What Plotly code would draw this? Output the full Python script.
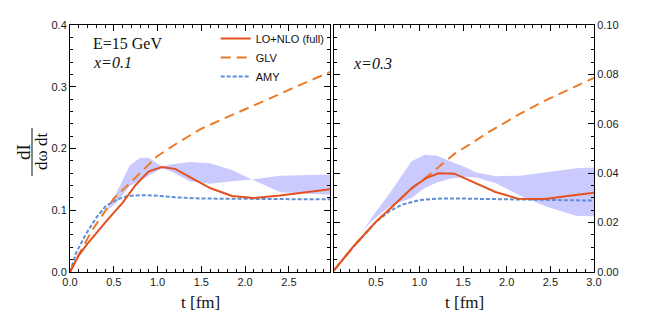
import plotly.graph_objects as go

# ---------------- data: left panel (x = 0.1) ----------------
t_full_L = [0, 0.1, 0.2, 0.3, 0.45, 0.6, 0.75, 0.9, 1.05, 1.2, 1.4, 1.6, 1.85, 2.1, 2.4, 2.7, 2.97]
v_full_L = [0, 0.027, 0.046, 0.063, 0.088, 0.112, 0.141, 0.163, 0.170, 0.167, 0.152, 0.136, 0.123, 0.120, 0.124, 0.129, 0.134]

t_glv_L = [0, 0.1, 0.25, 0.5, 0.75, 1.0, 1.25, 1.5, 1.75, 2.0, 2.25, 2.5, 2.75, 2.97]
v_glv_L = [0, 0.028, 0.067, 0.119, 0.153, 0.188, 0.211, 0.232, 0.248, 0.263, 0.279, 0.295, 0.311, 0.324]

t_amy_L = [0, 0.07, 0.18, 0.3, 0.41, 0.53, 0.66, 0.8, 0.95, 1.2, 1.5, 2.0, 2.5, 2.97]
v_amy_L = [0, 0.031, 0.061, 0.088, 0.107, 0.117, 0.123, 0.1245, 0.124, 0.121, 0.119, 0.118, 0.118, 0.118]

t_band_L = [0.4, 0.53, 0.68, 0.8, 0.9, 1.05, 1.15, 1.37, 1.6, 1.85, 2.08, 2.4, 2.97]
hi_band_L = [0.097, 0.128, 0.172, 0.185, 0.185, 0.171, 0.174, 0.178, 0.176, 0.165, 0.150, 0.156, 0.158]
lo_band_L = [0.097, 0.112, 0.139, 0.148, 0.156, 0.168, 0.163, 0.147, 0.143, 0.147, 0.150, 0.129, 0.125]

# ---------------- data: right panel (x = 0.3) ----------------
t_full_R = [0.02, 0.25, 0.5, 0.75, 0.92, 1.08, 1.22, 1.4, 1.6, 1.87, 2.13, 2.44, 2.72, 3.0]
v_full_R = [0.0007, 0.0107, 0.0203, 0.0288, 0.0342, 0.0381, 0.0400, 0.0398, 0.0367, 0.0324, 0.0297, 0.0296, 0.0309, 0.0321]

t_glv_R = [0.02, 0.25, 0.5, 0.75, 0.9, 1.1, 1.25, 1.4, 1.5, 1.8, 2.1, 2.4, 2.7, 3.0]
v_glv_R = [0.0007, 0.0105, 0.0203, 0.0285, 0.0335, 0.0390, 0.0434, 0.0478, 0.0500, 0.0568, 0.0630, 0.0687, 0.0737, 0.0786]

t_amy_R = [0.02, 0.25, 0.5, 0.65, 0.8, 1.0, 1.2, 1.4, 1.7, 2.0, 2.5, 3.0]
v_amy_R = [0.0007, 0.0105, 0.0202, 0.0245, 0.0273, 0.0291, 0.0297, 0.0298, 0.0296, 0.0294, 0.0291, 0.0289]

t_band_R = [0.35, 0.45, 0.66, 0.8, 0.91, 1.06, 1.2, 1.35, 1.52, 1.65, 1.87, 2.15, 2.45, 2.8, 3.0]
hi_band_R = [0.0165, 0.022, 0.032, 0.0394, 0.0448, 0.0475, 0.0471, 0.0448, 0.0425, 0.0403, 0.0388, 0.039, 0.0405, 0.042, 0.0423]
lo_band_R = [0.0165, 0.0205, 0.0266, 0.0285, 0.030, 0.0340, 0.0362, 0.0378, 0.0386, 0.0383, 0.036, 0.031, 0.0265, 0.0227, 0.0226]

series_names = ["LO+NLO (full)", "GLV", "AMY"]
x_title = "t [fm]"

# ---------------- styles ----------------
C_FULL = "#E4511E"
C_GLV = "#EC7A26"
C_AMY = "#5D8FDA"
C_BAND = "rgba(150,150,255,0.5)"
SANS = "Liberation Sans, Arial, sans-serif"
SERIF = "Liberation Serif, Times New Roman, serif"

fig = go.Figure()


def add_panel(t_band, hi, lo, t_amy, v_amy, t_glv, v_glv, t_full, v_full, xa, ya, legend):
    fig.add_trace(go.Scatter(
        x=list(t_band) + list(t_band)[::-1], y=list(hi) + list(lo)[::-1],
        fill="toself", fillcolor=C_BAND, line=dict(width=0), mode="lines",
        hoverinfo="skip", showlegend=False, xaxis=xa, yaxis=ya))
    fig.add_trace(go.Scatter(
        x=t_amy, y=v_amy, mode="lines", name=series_names[2], legendrank=3,
        line=dict(color=C_AMY, width=2, dash="4px,2px"), showlegend=legend, xaxis=xa, yaxis=ya))
    fig.add_trace(go.Scatter(
        x=t_glv, y=v_glv, mode="lines", name=series_names[1], legendrank=2,
        line=dict(color=C_GLV, width=2, dash="10px,6px"), showlegend=legend, xaxis=xa, yaxis=ya))
    fig.add_trace(go.Scatter(
        x=t_full, y=v_full, mode="lines", name=series_names[0], legendrank=1,
        line=dict(color=C_FULL, width=2), showlegend=legend, xaxis=xa, yaxis=ya))


add_panel(t_band_L, hi_band_L, lo_band_L, t_amy_L, v_amy_L, t_glv_L, v_glv_L, t_full_L, v_full_L, "x", "y", True)
add_panel(t_band_R, hi_band_R, lo_band_R, t_amy_R, v_amy_R, t_glv_R, v_glv_R, t_full_R, v_full_R, "x2", "y2", False)

tickfont = dict(family=SANS, size=11, color="#1a1a1a")
common = dict(showline=True, linecolor="black", linewidth=1, mirror="allticks",
              ticks="inside", ticklen=6, tickwidth=1, tickcolor="black",
              showgrid=False, zeroline=False, tickfont=tickfont, automargin=False)


def minor(d):
    return dict(dtick=d, ticks="inside", ticklen=3)


# the page body adds an 8px offset, so the figure is 8px smaller and its margins compensate
fig.update_layout(
    width=656, height=326,
    margin=dict(l=62, r=70, t=17, b=62, autoexpand=False),
    paper_bgcolor="white", plot_bgcolor="white",
    xaxis=dict(domain=[0, 0.4962], range=[0, 2.97], dtick=0.5, tick0=0, tickformat=".1f",
               minor=minor(0.1), anchor="y", **common),
    yaxis=dict(range=[0, 0.4], dtick=0.1, tick0=0, tickformat=".1f",
               minor=minor(0.02), anchor="x", **common),
    xaxis2=dict(domain=[0.5038, 1], range=[0.02, 3.0], dtick=0.5, tick0=0, tickformat=".1f",
                minor=minor(0.1), anchor="y2", **common),
    yaxis2=dict(range=[0, 0.1], dtick=0.02, tick0=0, tickformat=".2f", side="right",
                minor=minor(0.005), anchor="x2", **common),
    legend=dict(x=0.278, y=1.004, xanchor="left", yanchor="top", bgcolor="rgba(0,0,0,0)",
                font=dict(family=SANS, size=11, color="#111"), tracegroupgap=0,
                itemwidth=30),
    showlegend=True,
)


def px2paper(X, Y):
    # screen pixel -> paper fraction of the plotting area (70..594, 25..272)
    return (X - 70) / 524.0, 1 - (Y - 25) / 247.0


# x-axis titles
for cx in (200, 464):
    ax_, ay_ = px2paper(cx, 302)
    fig.add_annotation(x=ax_, y=ay_, xref="paper", yref="paper", text=x_title, showarrow=False,
                       xanchor="center", yanchor="middle", font=dict(family=SERIF, size=17, color="#111"))

# panel labels
fig.add_annotation(x=0.24, y=0.3695, xref="x", yref="y", text="E=15 GeV", showarrow=False,
                   xanchor="left", yanchor="middle", font=dict(family=SERIF, size=16, color="#111"))
fig.add_annotation(x=0.24, y=0.339, xref="x", yref="y", text="<i>x=0.1</i>", showarrow=False,
                   xanchor="left", yanchor="middle", font=dict(family=SERIF, size=16, color="#111"))
fig.add_annotation(x=0.21, y=0.0845, xref="x2", yref="y2", text="<i>x=0.3</i>", showarrow=False,
                   xanchor="left", yanchor="middle", font=dict(family=SERIF, size=16, color="#111"))

# y-axis title as a rotated fraction dI / (dω dt)
nx, ny = px2paper(23, 152)
fig.add_annotation(x=nx, y=ny, xref="paper", yref="paper", text="dI", textangle=-90, showarrow=False,
                   xanchor="center", yanchor="middle", font=dict(family=SERIF, size=19, color="#111"))
dx, dy = px2paper(41, 152)
fig.add_annotation(x=dx, y=dy, xref="paper", yref="paper", text="dω dt", textangle=-90, showarrow=False,
                   xanchor="center", yanchor="middle", font=dict(family=SERIF, size=17, color="#111"))
lx0, ly0 = px2paper(32, 128)
lx1, ly1 = px2paper(32, 176)
fig.add_shape(type="line", xref="paper", yref="paper", x0=lx0, y0=ly0, x1=lx1, y1=ly1,
              line=dict(color="#111", width=1))

fig.write_html("out.html")
